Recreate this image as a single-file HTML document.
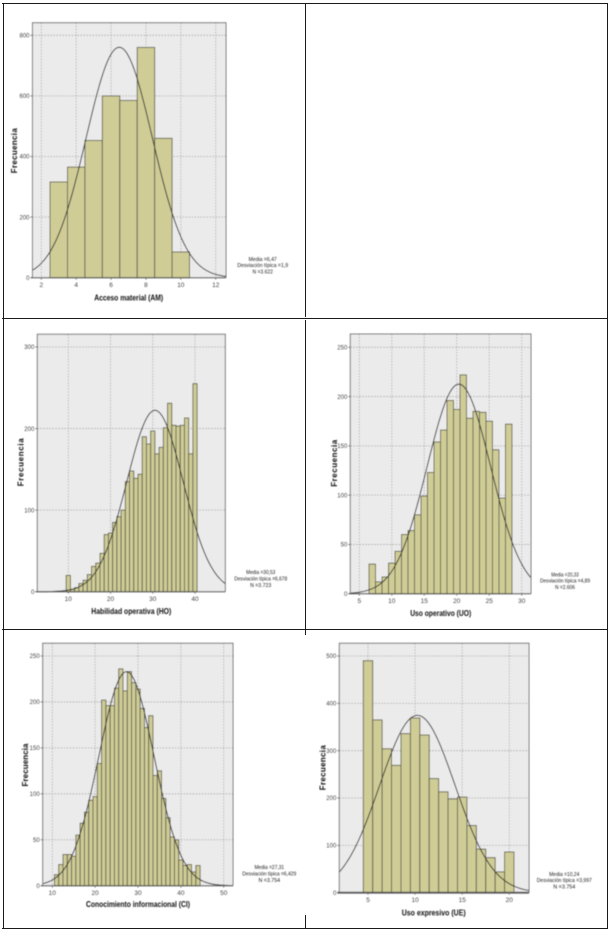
<!DOCTYPE html>
<html lang="es">
<head>
<meta charset="utf-8">
<title>Histogramas</title>
<style>
html,body{margin:0;padding:0;background:#fff;}
#page{position:relative;width:611px;height:931px;overflow:hidden;background:#fff;}
svg{display:block;font-family:"Liberation Sans",sans-serif;}
</style>
</head>
<body>
<div id="page">
<svg id="sheet" width="611" height="931" viewBox="0 0 611 931">
  <defs>
    <filter id="soft" x="-5%" y="-5%" width="110%" height="110%"><feGaussianBlur stdDeviation="0.42"/></filter>
  </defs>
  <g id="frame" stroke="#1a1a1a" stroke-width="1">
    <line x1="2" y1="3.5" x2="608" y2="3.5"/>
    <line x1="3.5" y1="3" x2="3.5" y2="929"/>
    <line x1="607.5" y1="3" x2="607.5" y2="929"/>
    <line x1="2" y1="928.5" x2="608" y2="928.5"/>
    <line x1="2" y1="318.5" x2="608" y2="318.5"/>
    <line x1="2" y1="629.5" x2="608" y2="629.5"/>
    <line x1="305.5" y1="3" x2="305.5" y2="317"/>
    <line x1="305.5" y1="320" x2="305.5" y2="635"/>
    <line x1="305.5" y1="915" x2="305.5" y2="928"/>
  </g>
  <g id="charts" filter="url(#soft)"></g>
</svg>
</div>
<script>
// Acceso material (AM)
const amCategories = [3, 4, 5, 6, 7, 8, 9, 10];
const amValues = [316, 365, 453, 600, 585, 760, 460, 85];
const amXTicks = [2, 4, 6, 8, 10, 12];
const amYTicks = [0, 200, 400, 600, 800];
const amStats = [6.47, 1.9, 3622];
const amStatLabels = ["Media =6,47", "Desviación típica =1,9", "N =3.622"];

// Habilidad operativa (HO)
const hoCategories = [10, 11, 12, 13, 14, 15, 16, 17, 18, 19, 20, 21, 22, 23, 24, 25, 26, 27, 28, 29, 30, 31, 32, 33, 34, 35, 36, 37, 38, 39, 40];
const hoValues = [20, 3, 5, 10, 14, 21, 31, 35, 47, 70, 72, 85, 92, 100, 135, 148, 139, 144, 190, 181, 197, 169, 177, 201, 231, 204, 203, 204, 213, 169, 255];
const hoXTicks = [10, 20, 30, 40];
const hoYTicks = [0, 100, 200, 300];
const hoStats = [30.53, 6.678, 3723];
const hoStatLabels = ["Media =30,53", "Desviación típica =6,678", "N =3.723"];

// Uso operativo (UO)
const uoCategories = [7, 8, 9, 10, 11, 12, 13, 14, 15, 16, 17, 18, 19, 20, 21, 22, 23, 24, 25, 26, 27, 28];
const uoValues = [30, 12, 17, 31, 43, 60, 64, 80, 99, 123, 154, 166, 196, 187, 222, 178, 185, 184, 175, 146, 97, 172];
const uoXTicks = [5, 10, 15, 20, 25, 30];
const uoYTicks = [0, 50, 100, 150, 200, 250];
const uoStats = [20.33, 4.89, 2606];
const uoStatLabels = ["Media =20,33", "Desviación típica =4,89", "N =2.606"];

// Conocimiento informacional (CI)
const ciCategories = [11, 12, 13, 14, 15, 16, 17, 18, 19, 20, 21, 22, 23, 24, 25, 26, 27, 28, 29, 30, 31, 32, 33, 34, 35, 36, 37, 38, 39, 40, 41, 42, 43, 44];
const ciValues = [12, 23, 34, 34, 32, 55, 68, 80, 93, 97, 133, 202, 196, 196, 215, 236, 212, 233, 221, 214, 193, 172, 185, 120, 125, 95, 74, 53, 50, 28, 22, 23, 15, 22];
const ciXTicks = [10, 20, 30, 40, 50];
const ciYTicks = [0, 50, 100, 150, 200, 250];
const ciStats = [27.31, 6.429, 3754];
const ciStatLabels = ["Media =27,31", "Desviación típica =6,429", "N =3.754"];

// Uso expresivo (UE)
const ueCategories = [5, 6, 7, 8, 9, 10, 11, 12, 13, 14, 15, 16, 17, 18, 19, 20];
const ueValues = [490, 365, 304, 269, 336, 369, 333, 241, 213, 198, 202, 142, 92, 74, 44, 86];
const ueXTicks = [5, 10, 15, 20];
const ueYTicks = [0, 100, 200, 300, 400, 500];
const ueStats = [10.24, 3.997, 3754];
const ueStatLabels = ["Media =10,24", "Desviación típica =3,997", "N =3.754"];

const SVGNS = "http://www.w3.org/2000/svg";
const root = document.getElementById("charts");

function make(tag, attrs, parent, text) {
  const node = document.createElementNS(SVGNS, tag);
  for (const k in attrs) node.setAttribute(k, attrs[k]);
  if (text !== undefined) node.textContent = text;
  parent.appendChild(node);
  return node;
}

function drawHistogram(c) {
  const g = make("g", {}, root);
  
  

  const x = v => c.x0px + (v - c.x0val) * (c.x1px - c.x0px) / (c.x1val - c.x0val);
  const y = v => c.y0px + (v - c.y0val) * (c.y1px - c.y0px) / (c.y1val - c.y0val);

  const bg = make("rect", {x: c.left, y: c.top, width: c.right - c.left, height: c.bottom - c.top, fill: "#ebebeb"}, g);
  
  

  c.xTicks.forEach(t => {
    const line = make("line", {x1: x(t), x2: x(t), y1: c.top, y2: c.bottom, stroke: "#a8a8a8", "stroke-width": 0.8, "stroke-dasharray": "1.5 1.5"}, g);
    
    
  });
  c.yTicks.forEach(t => {
    const line = make("line", {x1: c.left, x2: c.right, y1: y(t), y2: y(t), stroke: "#a0a0a0", "stroke-width": 0.8, "stroke-dasharray": "1.5 1.5"}, g);
    
    
  });

  c.categories.forEach((cat, i) => {
    const v = c.values[i];
    const bar = make("rect", {
      x: x(cat - 0.5), y: y(v),
      width: x(cat + 0.5) - x(cat - 0.5), height: y(0) - y(v),
      fill: "#cfcc96", stroke: "#5c5c4c", "stroke-width": 0.9
    }, g);
    
    
  });

  // Normal curve defined by the printed mean, standard deviation and N
  const [mean, sd, n] = c.stats;
  const xMinVal = c.x0val + (c.left - c.x0px) * (c.x1val - c.x0val) / (c.x1px - c.x0px);
  const xMaxVal = c.x0val + (c.right - c.x0px) * (c.x1val - c.x0val) / (c.x1px - c.x0px);
  let d = "";
  for (let i = 0; i <= 160; i++) {
    const v = xMinVal + (xMaxVal - xMinVal) * i / 160;
    const f = n / (sd * Math.sqrt(2 * Math.PI)) * Math.exp(-0.5 * Math.pow((v - mean) / sd, 2));
    d += (i ? "L" : "M") + x(v).toFixed(2) + " " + y(f).toFixed(2);
  }
  const curve = make("path", {d: d, fill: "none", stroke: "#2b2b2b", "stroke-width": 1}, g);
  
  

  const border = make("path", {
    d: "M" + c.left + " " + c.bottom + "V" + c.top + "H" + c.right + "V" + c.bottom,
    fill: "none", stroke: "#777", "stroke-width": 1
  }, g);
  
  

  const axis = make("line", {x1: c.left - 2, x2: c.right, y1: c.bottom, y2: c.bottom, stroke: "#555", "stroke-width": c.axisWidth}, g);
  
  

  c.xTicks.forEach(t => {
    const mark = make("line", {x1: x(t), x2: x(t), y1: c.bottom, y2: c.bottom + 2, stroke: "#666", "stroke-width": 0.8}, g);
    
    
    const label = make("text", {x: x(t), y: c.bottom + 9.5, "text-anchor": "middle", "font-size": 6.5, fill: "#444"}, g, String(t));
    
    
  });
  c.yTicks.forEach(t => {
    const mark = make("line", {x1: c.left - 2, x2: c.left, y1: y(t), y2: y(t), stroke: "#666", "stroke-width": 0.8}, g);
    
    
    const label = make("text", {x: c.left - 3, y: y(t) + 2.2, "text-anchor": "end", "font-size": 6, fill: "#444"}, g, String(t));
    
    
  });

  const xTitle = make("text", {
    x: c.xTitleX, y: c.xTitleY + 2.8, "text-anchor": "middle", "font-size": 8, "font-weight": "bold", fill: "#111",
    textLength: c.xTitleW, lengthAdjust: "spacingAndGlyphs"
  }, g, c.xTitle);
  
  

  const yTitle = make("text", {
    transform: "translate(" + (c.yTitleX + 2.8) + " " + c.yTitleY + ") rotate(-90)",
    "text-anchor": "middle", "font-size": 8, "font-weight": "bold", fill: "#111",
    textLength: c.yTitleW, lengthAdjust: "spacing"
  }, g, "Frecuencia");
  
  

  c.statLabels.forEach((s, i) => {
    const stat = make("text", {
      x: c.statX, y: c.statY + i * 6.3 + 1.9, "text-anchor": "middle", "font-size": 5.4, fill: "#222",
      textLength: [c.statW * 0.55, c.statW, c.statW * 0.4][i], lengthAdjust: "spacingAndGlyphs"
    }, g, s);
    
    
  });
}

drawHistogram({
  slug: "acceso-material", xTitle: "Acceso material (AM)",
  categories: amCategories, values: amValues, xTicks: amXTicks, yTicks: amYTicks, stats: amStats, statLabels: amStatLabels,
  left: 32.5, right: 226, top: 22.7, bottom: 277.7, axisWidth: 1,
  x0val: 2, x0px: 41.3, x1val: 12, x1px: 215.7, y0val: 0, y0px: 277.7, y1val: 800, y1px: 35.3,
  xTitleX: 128.7, xTitleY: 297.7, xTitleW: 69, yTitleX: 14.3, yTitleY: 150.7, yTitleW: 45,
  statX: 262.7, statY: 259, statW: 51
});
drawHistogram({
  slug: "habilidad-operativa", xTitle: "Habilidad operativa (HO)",
  categories: hoCategories, values: hoValues, xTicks: hoXTicks, yTicks: hoYTicks, stats: hoStats, statLabels: hoStatLabels,
  left: 37.3, right: 225.3, top: 334.3, bottom: 591.7, axisWidth: 1,
  x0val: 10, x0px: 68.3, x1val: 40, x1px: 195, y0val: 0, y0px: 591.7, y1val: 300, y1px: 347,
  xTitleX: 131.3, xTitleY: 611, xTitleW: 80, yTitleX: 20.7, yTitleY: 462.3, yTitleW: 48,
  statX: 260.7, statY: 572.3, statW: 53
});
drawHistogram({
  slug: "uso-operativo", xTitle: "Uso operativo (UO)",
  categories: uoCategories, values: uoValues, xTicks: uoXTicks, yTicks: uoYTicks, stats: uoStats, statLabels: uoStatLabels,
  left: 350.3, right: 531, top: 334, bottom: 593.7, axisWidth: 1,
  x0val: 5, x0px: 359.3, x1val: 30, x1px: 521.7, y0val: 0, y0px: 593.7, y1val: 250, y1px: 347.3,
  xTitleX: 440.7, xTitleY: 613.3, xTitleW: 61, yTitleX: 334, yTitleY: 463.3, yTitleW: 47,
  statX: 565, statY: 574.5, statW: 50
});
drawHistogram({
  slug: "conocimiento-informacional", xTitle: "Conocimiento informacional (CI)",
  categories: ciCategories, values: ciValues, xTicks: ciXTicks, yTicks: ciYTicks, stats: ciStats, statLabels: ciStatLabels,
  left: 42.7, right: 233, top: 643.3, bottom: 885.7, axisWidth: 1,
  x0val: 10, x0px: 52.3, x1val: 50, x1px: 223.7, y0val: 0, y0px: 885.7, y1val: 250, y1px: 656,
  xTitleX: 138, xTitleY: 904, xTitleW: 104, yTitleX: 25.3, yTitleY: 765, yTitleW: 43,
  statX: 269.3, statY: 867.3, statW: 54
});
drawHistogram({
  slug: "uso-expresivo", xTitle: "Uso expresivo (UE)",
  categories: ueCategories, values: ueValues, xTicks: ueXTicks, yTicks: ueYTicks, stats: ueStats, statLabels: ueStatLabels,
  left: 339.3, right: 529, top: 643.3, bottom: 892.7, axisWidth: 1.8,
  x0val: 5, x0px: 368, x1val: 20, x1px: 509.3, y0val: 0, y0px: 892.7, y1val: 500, y1px: 656,
  xTitleX: 433.7, xTitleY: 912.7, xTitleW: 64, yTitleX: 322.7, yTitleY: 767.7, yTitleW: 45,
  statX: 564.3, statY: 874, statW: 55
});
</script>
</body>
</html>
